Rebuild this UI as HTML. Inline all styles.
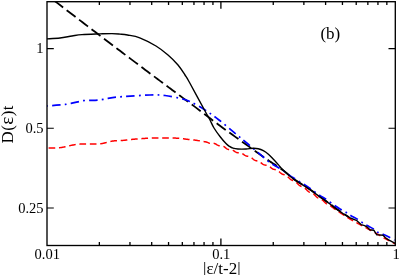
<!DOCTYPE html>
<html><head><meta charset="utf-8"><style>
html,body{margin:0;padding:0;background:#fff;}
body{width:399px;height:275px;overflow:hidden;}
svg{display:block;}
text{font-family:"Liberation Serif",serif;fill:#000;}
</style></head><body>
<svg width="399" height="275" viewBox="0 0 399 275">
<rect width="399" height="275" fill="#fff"/>
<defs><clipPath id="c"><rect x="47.0" y="1.7" width="348.3" height="243.8"/></clipPath></defs>
<g clip-path="url(#c)" fill="none" stroke-linejoin="round">
<path d="M40.00,-10.32 C40.83,-9.68 43.33,-7.75 45.00,-6.47 C46.67,-5.19 48.33,-3.90 50.00,-2.62 C51.67,-1.34 53.33,-0.06 55.00,1.22 C56.67,2.50 58.33,3.78 60.00,5.06 C61.67,6.34 63.33,7.62 65.00,8.90 C66.67,10.18 68.33,11.46 70.00,12.73 C71.67,14.01 73.33,15.29 75.00,16.56 C76.67,17.84 78.33,19.11 80.00,20.39 C81.67,21.66 83.33,22.94 85.00,24.21 C86.67,25.48 88.33,26.75 90.00,28.02 C91.67,29.30 93.33,30.57 95.00,31.84 C96.67,33.11 98.33,34.37 100.00,35.64 C101.67,36.91 103.33,38.18 105.00,39.44 C106.67,40.71 108.33,41.98 110.00,43.24 C111.67,44.51 113.33,45.77 115.00,47.03 C116.67,48.29 118.33,49.56 120.00,50.82 C121.67,52.08 123.33,53.34 125.00,54.60 C126.67,55.86 128.33,57.12 130.00,58.37 C131.67,59.63 133.33,60.89 135.00,62.14 C136.67,63.40 138.33,64.65 140.00,65.90 C141.67,67.16 143.33,68.41 145.00,69.66 C146.67,70.91 148.33,72.16 150.00,73.41 C151.67,74.66 153.33,75.90 155.00,77.15 C156.67,78.40 158.33,79.64 160.00,80.89 C161.67,82.13 163.33,83.37 165.00,84.61 C166.67,85.86 168.33,87.10 170.00,88.33 C171.67,89.57 173.33,90.81 175.00,92.05 C176.67,93.28 178.33,94.52 180.00,95.75 C181.67,96.99 183.33,98.22 185.00,99.45 C186.67,100.68 188.33,101.90 190.00,103.14 C191.67,104.38 193.33,105.62 195.00,106.87 C196.67,108.13 198.33,109.40 200.00,110.67 C201.67,111.94 203.33,113.23 205.00,114.50 C206.67,115.78 208.33,117.06 210.00,118.32 C211.67,119.59 213.33,120.85 215.00,122.10 C216.67,123.34 218.33,124.56 220.00,125.78 C221.67,127.00 223.33,128.20 225.00,129.41 C226.67,130.61 228.33,131.82 230.00,133.02 C231.67,134.22 233.33,135.42 235.00,136.62 C236.67,137.82 238.33,139.02 240.00,140.21 C241.67,141.40 243.33,142.60 245.00,143.79 C246.67,144.98 248.33,146.17 250.00,147.36 C251.67,148.54 253.33,149.73 255.00,150.91 C256.67,152.09 258.33,153.27 260.00,154.45 C261.67,155.63 263.33,156.81 265.00,157.98 C266.67,159.16 268.33,160.40 270.00,161.50 C271.67,162.60 273.30,163.45 275.00,164.60 C276.70,165.75 278.45,167.13 280.20,168.40 C281.95,169.67 283.87,170.93 285.50,172.20 C287.13,173.47 288.37,174.70 290.00,176.00 C291.63,177.30 293.02,178.43 295.30,180.00 C297.58,181.57 301.12,183.72 303.70,185.40 C306.28,187.08 308.08,188.20 310.80,190.10 C313.52,192.00 316.75,194.47 320.00,196.80 C323.25,199.13 327.03,201.73 330.30,204.10 C333.57,206.47 336.48,208.82 339.60,211.00 C342.72,213.18 347.43,216.17 349.00,217.20" stroke="#000" stroke-width="1.8" stroke-dasharray="11.2,4.46" stroke-dashoffset="13.36"/>
<path d="M47.00,148.00 L47.28,148.00 L47.62,148.00 L48.00,148.01 L48.43,148.02 L48.90,148.02 L49.41,148.03 L49.94,148.04 L50.49,148.04 L51.06,148.05 L51.64,148.05 L52.23,148.06 L52.81,148.06 L53.39,148.06 L53.96,148.05 L54.51,148.05 L55.04,148.04 L55.54,148.02 L56.00,148.00 L56.55,147.97 L57.08,147.94 L57.58,147.91 L58.06,147.87 L58.52,147.83 L58.98,147.79 L59.44,147.74 L59.90,147.68 L60.36,147.62 L60.84,147.55 L61.34,147.48 L61.86,147.39 L62.41,147.30 L63.00,147.20 L63.44,147.12 L63.89,147.03 L64.37,146.93 L64.86,146.83 L65.36,146.72 L65.87,146.60 L66.40,146.48 L66.93,146.36 L67.46,146.23 L68.00,146.11 L68.54,145.98 L69.07,145.85 L69.60,145.73 L70.13,145.61 L70.64,145.49 L71.14,145.38 L71.63,145.27 L72.11,145.17 L72.56,145.08 L73.00,145.00 L73.59,144.89 L74.13,144.80 L74.64,144.71 L75.13,144.62 L75.60,144.55 L76.05,144.48 L76.50,144.42 L76.95,144.36 L77.40,144.31 L77.87,144.26 L78.36,144.22 L78.87,144.18 L79.41,144.14 L80.00,144.10 L80.43,144.08 L80.88,144.06 L81.34,144.04 L81.81,144.03 L82.29,144.02 L82.78,144.01 L83.28,144.01 L83.78,144.01 L84.30,144.01 L84.81,144.01 L85.33,144.01 L85.86,144.01 L86.38,144.01 L86.91,144.01 L87.43,144.01 L87.95,144.01 L88.47,144.01 L88.99,144.01 L89.50,144.01 L90.00,144.00 L90.50,143.99 L91.01,143.99 L91.53,143.99 L92.05,143.99 L92.57,143.99 L93.09,143.99 L93.62,143.99 L94.14,143.98 L94.67,143.98 L95.19,143.98 L95.70,143.98 L96.22,143.97 L96.72,143.96 L97.22,143.95 L97.71,143.94 L98.19,143.92 L98.66,143.90 L99.12,143.87 L99.57,143.84 L100.00,143.80 L100.59,143.74 L101.17,143.66 L101.72,143.58 L102.25,143.49 L102.76,143.39 L103.26,143.28 L103.75,143.18 L104.23,143.06 L104.70,142.95 L105.16,142.83 L105.62,142.72 L106.08,142.61 L106.54,142.50 L107.00,142.40 L107.53,142.28 L108.03,142.16 L108.52,142.03 L109.00,141.90 L109.47,141.77 L109.94,141.64 L110.41,141.51 L110.89,141.39 L111.38,141.28 L111.90,141.18 L112.43,141.08 L113.00,141.00 L113.44,140.95 L113.88,140.91 L114.33,140.87 L114.79,140.85 L115.25,140.83 L115.72,140.81 L116.20,140.80 L116.69,140.79 L117.18,140.78 L117.69,140.76 L118.21,140.75 L118.74,140.73 L119.29,140.71 L119.84,140.68 L120.41,140.65 L121.00,140.60 L121.44,140.56 L121.89,140.52 L122.36,140.47 L122.83,140.43 L123.32,140.37 L123.81,140.32 L124.31,140.26 L124.82,140.21 L125.34,140.15 L125.85,140.09 L126.38,140.03 L126.90,139.96 L127.42,139.90 L127.95,139.84 L128.47,139.78 L128.99,139.72 L129.51,139.66 L130.02,139.60 L130.53,139.55 L131.03,139.50 L131.52,139.45 L132.00,139.40 L132.52,139.35 L133.04,139.30 L133.55,139.26 L134.06,139.21 L134.57,139.17 L135.07,139.12 L135.57,139.08 L136.07,139.04 L136.57,139.00 L137.06,138.96 L137.56,138.92 L138.05,138.89 L138.54,138.85 L139.03,138.81 L139.52,138.78 L140.02,138.74 L140.51,138.71 L141.00,138.67 L141.50,138.64 L142.00,138.60 L142.50,138.56 L143.00,138.53 L143.49,138.49 L143.98,138.46 L144.48,138.42 L144.97,138.39 L145.46,138.36 L145.95,138.32 L146.44,138.29 L146.94,138.26 L147.43,138.22 L147.93,138.19 L148.43,138.17 L148.93,138.14 L149.43,138.11 L149.94,138.08 L150.45,138.06 L150.96,138.04 L151.48,138.02 L152.00,138.00 L152.48,137.98 L152.97,137.97 L153.47,137.96 L153.97,137.95 L154.47,137.94 L154.98,137.93 L155.50,137.92 L156.01,137.92 L156.53,137.91 L157.05,137.91 L157.56,137.91 L158.08,137.90 L158.59,137.90 L159.11,137.90 L159.61,137.90 L160.12,137.90 L160.62,137.90 L161.11,137.90 L161.59,137.90 L162.07,137.90 L162.54,137.90 L163.00,137.90 L163.55,137.90 L164.09,137.90 L164.63,137.90 L165.15,137.90 L165.67,137.90 L166.19,137.91 L166.69,137.91 L167.19,137.91 L167.69,137.92 L168.18,137.92 L168.67,137.93 L169.15,137.94 L169.63,137.94 L170.11,137.95 L170.58,137.96 L171.05,137.97 L171.53,137.99 L172.00,138.00 L172.53,138.02 L173.05,138.03 L173.56,138.05 L174.07,138.06 L174.57,138.08 L175.07,138.10 L175.57,138.12 L176.06,138.14 L176.55,138.17 L177.04,138.19 L177.53,138.22 L178.02,138.25 L178.51,138.28 L179.01,138.32 L179.50,138.36 L180.00,138.40 L180.50,138.45 L180.99,138.50 L181.49,138.55 L181.98,138.61 L182.47,138.67 L182.96,138.73 L183.45,138.80 L183.94,138.86 L184.43,138.93 L184.93,139.00 L185.43,139.07 L185.93,139.14 L186.44,139.20 L186.95,139.27 L187.47,139.34 L188.00,139.40 L188.47,139.45 L188.95,139.51 L189.42,139.55 L189.89,139.60 L190.37,139.65 L190.85,139.69 L191.33,139.74 L191.82,139.78 L192.31,139.83 L192.81,139.88 L193.31,139.93 L193.81,139.99 L194.33,140.04 L194.85,140.10 L195.37,140.17 L195.91,140.24 L196.45,140.32 L197.00,140.40 L197.46,140.47 L197.92,140.55 L198.39,140.62 L198.86,140.70 L199.34,140.78 L199.83,140.87 L200.32,140.96 L200.81,141.04 L201.31,141.14 L201.81,141.23 L202.31,141.33 L202.82,141.42 L203.33,141.52 L203.84,141.59 L204.36,141.66 L204.87,141.72 L205.39,141.79 L205.91,141.89 L206.43,142.01 L206.95,142.18 L207.48,142.38 L208.00,142.61 L208.48,142.82 L208.97,143.03 L209.46,143.22 L209.96,143.36 L210.46,143.45 L210.97,143.48 L211.48,143.45 L211.99,143.39 L212.50,143.33 L213.02,143.29 L213.53,143.30 L214.04,143.37 L214.56,143.50 L215.07,143.69 L215.58,143.94 L216.09,144.23 L216.59,144.54 L217.10,144.84 L217.59,145.12 L218.09,145.36 L218.57,145.55 L219.06,145.69 L219.53,145.78 L220.00,145.82 L220.55,145.84 L221.08,145.85 L221.59,145.86 L222.09,145.91 L222.58,146.01 L223.06,146.16 L223.54,146.37 L224.01,146.64 L224.48,146.96 L224.95,147.31 L225.43,147.69 L225.91,148.08 L226.40,148.46 L226.90,148.80 L227.42,149.10 L227.95,149.34 L228.51,149.51 L229.08,149.62 L229.68,149.67 L230.30,149.70 L230.73,149.72 L231.17,149.76 L231.62,149.83 L232.08,149.95 L232.55,150.12 L233.02,150.35 L233.51,150.62 L234.00,150.93 L234.50,151.27 L235.00,151.61 L235.51,151.93 L236.02,152.21 L236.54,152.44 L237.06,152.61 L237.59,152.71 L238.12,152.76 L238.65,152.77 L239.18,152.77 L239.71,152.77 L240.24,152.81 L240.78,152.91 L241.31,153.07 L241.84,153.31 L242.38,153.61 L242.90,153.96 L243.43,154.34 L243.95,154.72 L244.47,155.09 L244.99,155.42 L245.50,155.69 L246.01,155.91 L246.53,156.08 L247.05,156.19 L247.58,156.27 L248.11,156.34 L248.65,156.41 L249.19,156.52 L249.73,156.69 L250.27,156.93 L250.82,157.24 L251.36,157.61 L251.91,158.04 L252.45,158.50 L252.99,158.97 L253.53,159.40 L254.06,159.79 L254.59,160.12 L255.11,160.38 L255.63,160.58 L256.15,160.72 L256.66,160.82 L257.15,160.91 L257.65,161.00 L258.13,161.11 L258.60,161.25 L259.06,161.44 L259.52,161.68 L259.96,161.95 L260.38,162.25 L260.80,162.57 L261.46,163.10 L262.09,163.61 L262.68,164.05 L263.24,164.41 L263.78,164.68 L264.29,164.88 L264.78,165.00 L265.26,165.09 L265.73,165.14 L266.19,165.18 L266.65,165.23 L267.10,165.30 L267.56,165.41 L268.02,165.56 L268.49,165.78 L268.98,166.07 L269.48,166.42 L270.00,166.83 L270.48,167.23 L270.97,167.65 L271.47,168.05 L271.97,168.42 L272.48,168.74 L272.99,169.01 L273.50,169.21 L274.02,169.37 L274.53,169.48 L275.05,169.58 L275.56,169.68 L276.08,169.80 L276.59,169.97 L277.09,170.19 L277.59,170.48 L278.09,170.82 L278.58,171.21 L279.06,171.62 L279.54,172.05 L280.00,172.47 L280.57,172.96 L281.12,173.39 L281.65,173.74 L282.18,174.03 L282.69,174.25 L283.20,174.42 L283.70,174.56 L284.20,174.69 L284.70,174.83 L285.20,175.00 L285.71,175.22 L286.22,175.51 L286.75,175.87 L287.28,176.31 L287.83,176.81 L288.40,177.37 L288.87,177.83 L289.34,178.29 L289.82,178.73 L290.31,179.14 L290.81,179.50 L291.31,179.80 L291.82,180.05 L292.33,180.26 L292.85,180.44 L293.36,180.61 L293.88,180.81 L294.40,181.04 L294.91,181.32 L295.42,181.66 L295.93,182.07 L296.44,182.52 L296.94,183.01 L297.43,183.52 L297.92,184.02 L298.40,184.49 L298.92,184.98 L299.44,185.40 L299.96,185.75 L300.47,186.04 L300.97,186.27 L301.47,186.46 L301.97,186.63 L302.47,186.80 L302.96,186.98 L303.45,187.20 L303.95,187.47 L304.44,187.80 L304.93,188.18 L305.42,188.62 L305.91,189.09 L306.41,189.59 L306.90,190.10 L307.40,190.59 L307.90,191.05 L308.40,191.46 L308.90,191.82 L309.41,192.11 L309.91,192.34 L310.41,192.54 L310.92,192.71 L311.42,192.88 L311.93,193.06 L312.43,193.28 L312.93,193.55 L313.43,193.89 L313.93,194.28 L314.43,194.72 L314.92,195.20 L315.42,195.70 L315.91,196.21 L316.40,196.69 L316.92,197.17 L317.43,197.59 L317.95,197.95 L318.46,198.25 L318.97,198.49 L319.48,198.68 L319.98,198.86 L320.49,199.03 L321.00,199.23 L321.50,199.46 L322.00,199.75 L322.50,200.09 L323.01,200.50 L323.51,200.95 L324.00,201.45 L324.50,201.96 L325.00,202.47 L325.51,202.98 L325.99,203.42 L326.45,203.79 L326.90,204.11 L327.33,204.36 L327.77,204.56 L328.20,204.75 L328.64,204.93 L329.10,205.12 L329.59,205.35 L330.10,205.62 L330.64,205.96 L331.23,206.37 L331.86,206.86 L332.55,207.40 L333.30,207.99 L333.68,208.27 L334.08,208.55 L334.48,208.82 L334.89,209.08 L335.32,209.37 L335.75,209.66 L336.19,209.96 L336.64,210.27 L337.10,210.59 L337.56,210.90 L338.04,211.23 L338.52,211.56 L339.01,211.89 L339.50,212.23 L340.01,212.57 L340.52,212.92 L341.03,213.27 L341.56,213.62 L342.09,213.97 L342.62,214.33 L343.16,214.69 L343.71,215.05 L344.26,215.41 L344.81,215.77 L345.37,216.13 L345.94,216.49 L346.51,216.86 L347.08,217.22 L347.66,217.58 L348.24,217.94 L348.82,218.29 L349.41,218.65 L350.00,219.00 L350.45,219.27 L350.91,219.53 L351.38,219.81 L351.85,220.08 L352.34,220.36 L352.83,220.64 L353.33,220.93 L353.84,221.21 L354.36,221.50 L354.88,221.79 L355.41,222.08 L355.94,222.37 L356.47,222.67 L357.01,222.96 L357.56,223.26 L358.10,223.55 L358.65,223.85 L359.20,224.15 L359.75,224.44 L360.30,224.74 L360.85,225.04 L361.40,225.33 L361.95,225.63 L362.50,225.92 L363.04,226.21 L363.59,226.50 L364.13,226.79 L364.66,227.07 L365.19,227.36 L365.72,227.64 L366.24,227.92 L366.76,228.19 L367.27,228.47 L367.77,228.74 L368.27,229.00 L368.75,229.26 L369.23,229.52 L369.70,229.78 L370.16,230.03 L370.61,230.27 L371.05,230.51 L371.48,230.75 L371.90,230.98 L372.30,231.20 L372.99,231.58 L373.65,231.96 L374.29,232.32 L374.90,232.67 L375.50,233.01 L376.07,233.34 L376.63,233.66 L377.17,233.97 L377.69,234.27 L378.20,234.57 L378.70,234.86 L379.18,235.14 L379.65,235.42 L380.12,235.69 L380.58,235.96 L381.03,236.22 L381.47,236.48 L381.91,236.74 L382.35,236.99 L382.79,237.25 L383.22,237.50 L383.66,237.75 L384.10,238.00 L384.55,238.25 L385.00,238.50 L385.57,238.82 L386.15,239.13 L386.74,239.45 L387.33,239.77 L387.92,240.09 L388.51,240.40 L389.10,240.71 L389.67,241.02 L390.24,241.32 L390.79,241.61 L391.33,241.89 L391.85,242.16 L392.35,242.42 L392.82,242.66 L393.27,242.89 L393.68,243.11 L394.07,243.31 L394.42,243.49 L394.73,243.66 L395.00,243.80" stroke="#ff0000" stroke-width="1.5" stroke-dasharray="6.65,3.75" stroke-dashoffset="8.8"/>
<path d="M47.00,106.00 C47.83,105.93 49.77,105.80 52.00,105.60 C54.23,105.40 58.17,105.00 60.40,104.80 C62.63,104.60 63.63,104.63 65.40,104.40 C67.17,104.17 68.73,103.87 71.00,103.40 C73.27,102.93 76.90,102.07 79.00,101.60 C81.10,101.13 81.93,100.80 83.60,100.60 C85.27,100.40 86.60,100.50 89.00,100.40 C91.40,100.30 95.67,100.17 98.00,100.00 C100.33,99.83 101.33,99.67 103.00,99.40 C104.67,99.13 105.83,98.77 108.00,98.40 C110.17,98.03 113.17,97.52 116.00,97.20 C118.83,96.88 119.33,96.87 125.00,96.50 C130.67,96.13 143.33,95.17 150.00,95.00 C156.67,94.83 160.00,94.93 165.00,95.50 C170.00,96.07 175.83,97.40 180.00,98.40 C184.17,99.40 185.83,99.57 190.00,101.50 C194.17,103.43 200.17,106.92 205.00,110.00 C209.83,113.08 214.17,116.27 219.00,120.00 C223.83,123.73 229.17,128.40 234.00,132.40 C238.83,136.40 242.33,139.22 248.00,144.00 C253.67,148.78 263.33,157.40 268.00,161.10 C272.67,164.80 273.23,164.47 276.00,166.20 C278.77,167.93 282.27,169.93 284.60,171.50 C286.93,173.07 288.17,174.33 290.00,175.60 C291.83,176.87 293.90,178.00 295.60,179.10 C297.30,180.20 298.58,181.18 300.20,182.20 C301.82,183.22 303.60,184.10 305.30,185.20 C307.00,186.30 308.72,187.60 310.40,188.80 C312.08,190.00 313.72,191.22 315.40,192.40 C317.08,193.58 318.80,194.80 320.50,195.90 C322.20,197.00 323.18,197.35 325.60,199.00 C328.02,200.65 332.42,204.03 335.00,205.80 C337.58,207.57 339.18,208.47 341.10,209.60 C343.02,210.73 344.85,211.58 346.50,212.60 C348.15,213.62 349.10,214.55 351.00,215.70 C352.90,216.85 356.02,218.35 357.90,219.50 C359.78,220.65 360.75,221.58 362.30,222.60 C363.85,223.62 365.33,224.55 367.20,225.60 C369.07,226.65 371.73,227.78 373.50,228.90 C375.27,230.02 376.22,231.42 377.80,232.30 C379.38,233.18 381.07,233.37 383.00,234.20 C384.93,235.03 387.48,236.30 389.40,237.30 C391.32,238.30 393.65,239.72 394.50,240.20" stroke="#0000ff" stroke-width="1.7" stroke-dasharray="8.4,4.3,1.8,4.2" stroke-dashoffset="13.5"/>
<path d="M47.00,38.90 C49.17,38.75 55.83,38.48 60.00,38.00 C64.17,37.52 68.33,36.57 72.00,36.00 C75.67,35.43 77.33,34.95 82.00,34.60 C86.67,34.25 95.00,34.07 100.00,33.90 C105.00,33.73 108.67,33.57 112.00,33.60 C115.33,33.63 117.42,33.87 120.00,34.10 C122.58,34.33 124.21,34.38 127.50,35.00 C130.79,35.62 135.00,35.97 139.75,37.80 C144.50,39.63 151.29,43.13 156.00,46.00 C160.71,48.87 164.33,51.83 168.00,55.00 C171.67,58.17 175.17,61.67 178.00,65.00 C180.83,68.33 183.03,72.00 185.00,75.00 C186.97,78.00 186.47,77.00 189.80,83.00 C193.13,89.00 201.63,104.83 205.00,111.00 C208.37,117.17 208.50,117.17 210.00,120.00 C211.50,122.83 212.33,125.25 214.00,128.00 C215.67,130.75 218.00,133.90 220.00,136.50 C222.00,139.10 224.42,141.95 226.00,143.60 C227.58,145.25 228.33,145.63 229.50,146.40 C230.67,147.17 231.58,147.77 233.00,148.20 C234.42,148.63 235.83,148.87 238.00,149.00 C240.17,149.13 243.48,149.13 246.00,149.00 C248.52,148.87 251.07,148.25 253.10,148.20 C255.13,148.15 256.50,148.28 258.20,148.70 C259.90,149.12 261.60,149.78 263.30,150.70 C265.00,151.62 266.72,152.77 268.40,154.20 C270.08,155.63 271.72,157.52 273.40,159.30 C275.08,161.08 277.30,163.53 278.50,164.90 C279.70,166.27 279.43,166.27 280.60,167.50 C281.77,168.73 283.93,170.83 285.50,172.30 C287.07,173.77 288.37,174.97 290.00,176.30 C291.63,177.63 293.02,178.75 295.30,180.30 C297.58,181.85 301.12,183.93 303.70,185.60 C306.28,187.27 308.08,188.40 310.80,190.30 C313.52,192.20 316.75,194.67 320.00,197.00 C323.25,199.33 328.58,203.08 330.30,204.30 L335.00,208.10 L339.60,211.10 L344.20,214.50 L350.30,218.00 L356.40,220.30 L361.10,224.60 L364.60,225.60 L367.20,227.10 L369.70,229.70 L373.80,230.20 L376.80,234.80 L378.90,234.90 L383.00,235.30 L385.50,237.80 L388.60,239.90 L395.20,243.40" stroke="#000" stroke-width="1.4"/>
</g>
<rect x="47.0" y="1.7" width="348.3" height="243.8" fill="none" stroke="#000" stroke-width="1.35"/>
<path d="M99.35,245.50v-3.4 M99.35,1.70v3.4 M129.97,245.50v-3.4 M129.97,1.70v3.4 M151.70,245.50v-3.4 M151.70,1.70v3.4 M168.55,245.50v-3.4 M168.55,1.70v3.4 M182.32,245.50v-3.4 M182.32,1.70v3.4 M193.96,245.50v-3.4 M193.96,1.70v3.4 M204.05,245.50v-3.4 M204.05,1.70v3.4 M212.94,245.50v-3.4 M212.94,1.70v3.4 M220.90,245.50v-7.0 M220.90,1.70v7.0 M273.25,245.50v-3.4 M273.25,1.70v3.4 M303.87,245.50v-3.4 M303.87,1.70v3.4 M325.60,245.50v-3.4 M325.60,1.70v3.4 M342.45,245.50v-3.4 M342.45,1.70v3.4 M356.22,245.50v-3.4 M356.22,1.70v3.4 M367.86,245.50v-3.4 M367.86,1.70v3.4 M377.95,245.50v-3.4 M377.95,1.70v3.4 M386.84,245.50v-3.4 M386.84,1.70v3.4 " stroke="#000" stroke-width="1.3" fill="none"/>
<path d="M47.00,48.60h6.8 M395.30,48.60h-6.8 M47.00,128.30h6.8 M395.30,128.30h-6.8 M47.00,208.00h6.8 M395.30,208.00h-6.8 " stroke="#000" stroke-width="1.1" fill="none"/>
<g style="filter:grayscale(1)">
<g font-size="14.5px">
<text x="43.6" y="53.3" text-anchor="end">1</text>
<text x="43.6" y="133.4" text-anchor="end">0.5</text>
<text x="43.6" y="213.2" text-anchor="end">0.25</text>
<text x="47.3" y="259.3" text-anchor="middle">0.01</text>
<text x="221.3" y="259.3" text-anchor="middle">0.1</text>
<text x="396.1" y="259.3" text-anchor="middle">1</text>
</g>
<text x="221.8" y="273.6" text-anchor="middle" font-size="17px">|ε/t-2|</text>
<text x="330.3" y="38.75" text-anchor="middle" font-size="17px">(b)</text>
<text transform="translate(13.2,124.3) rotate(-90)" text-anchor="middle" font-size="17px" letter-spacing="0.35">D(<tspan font-size="19.5px">ε</tspan>)t</text>
</g>
</svg>
</body></html>
